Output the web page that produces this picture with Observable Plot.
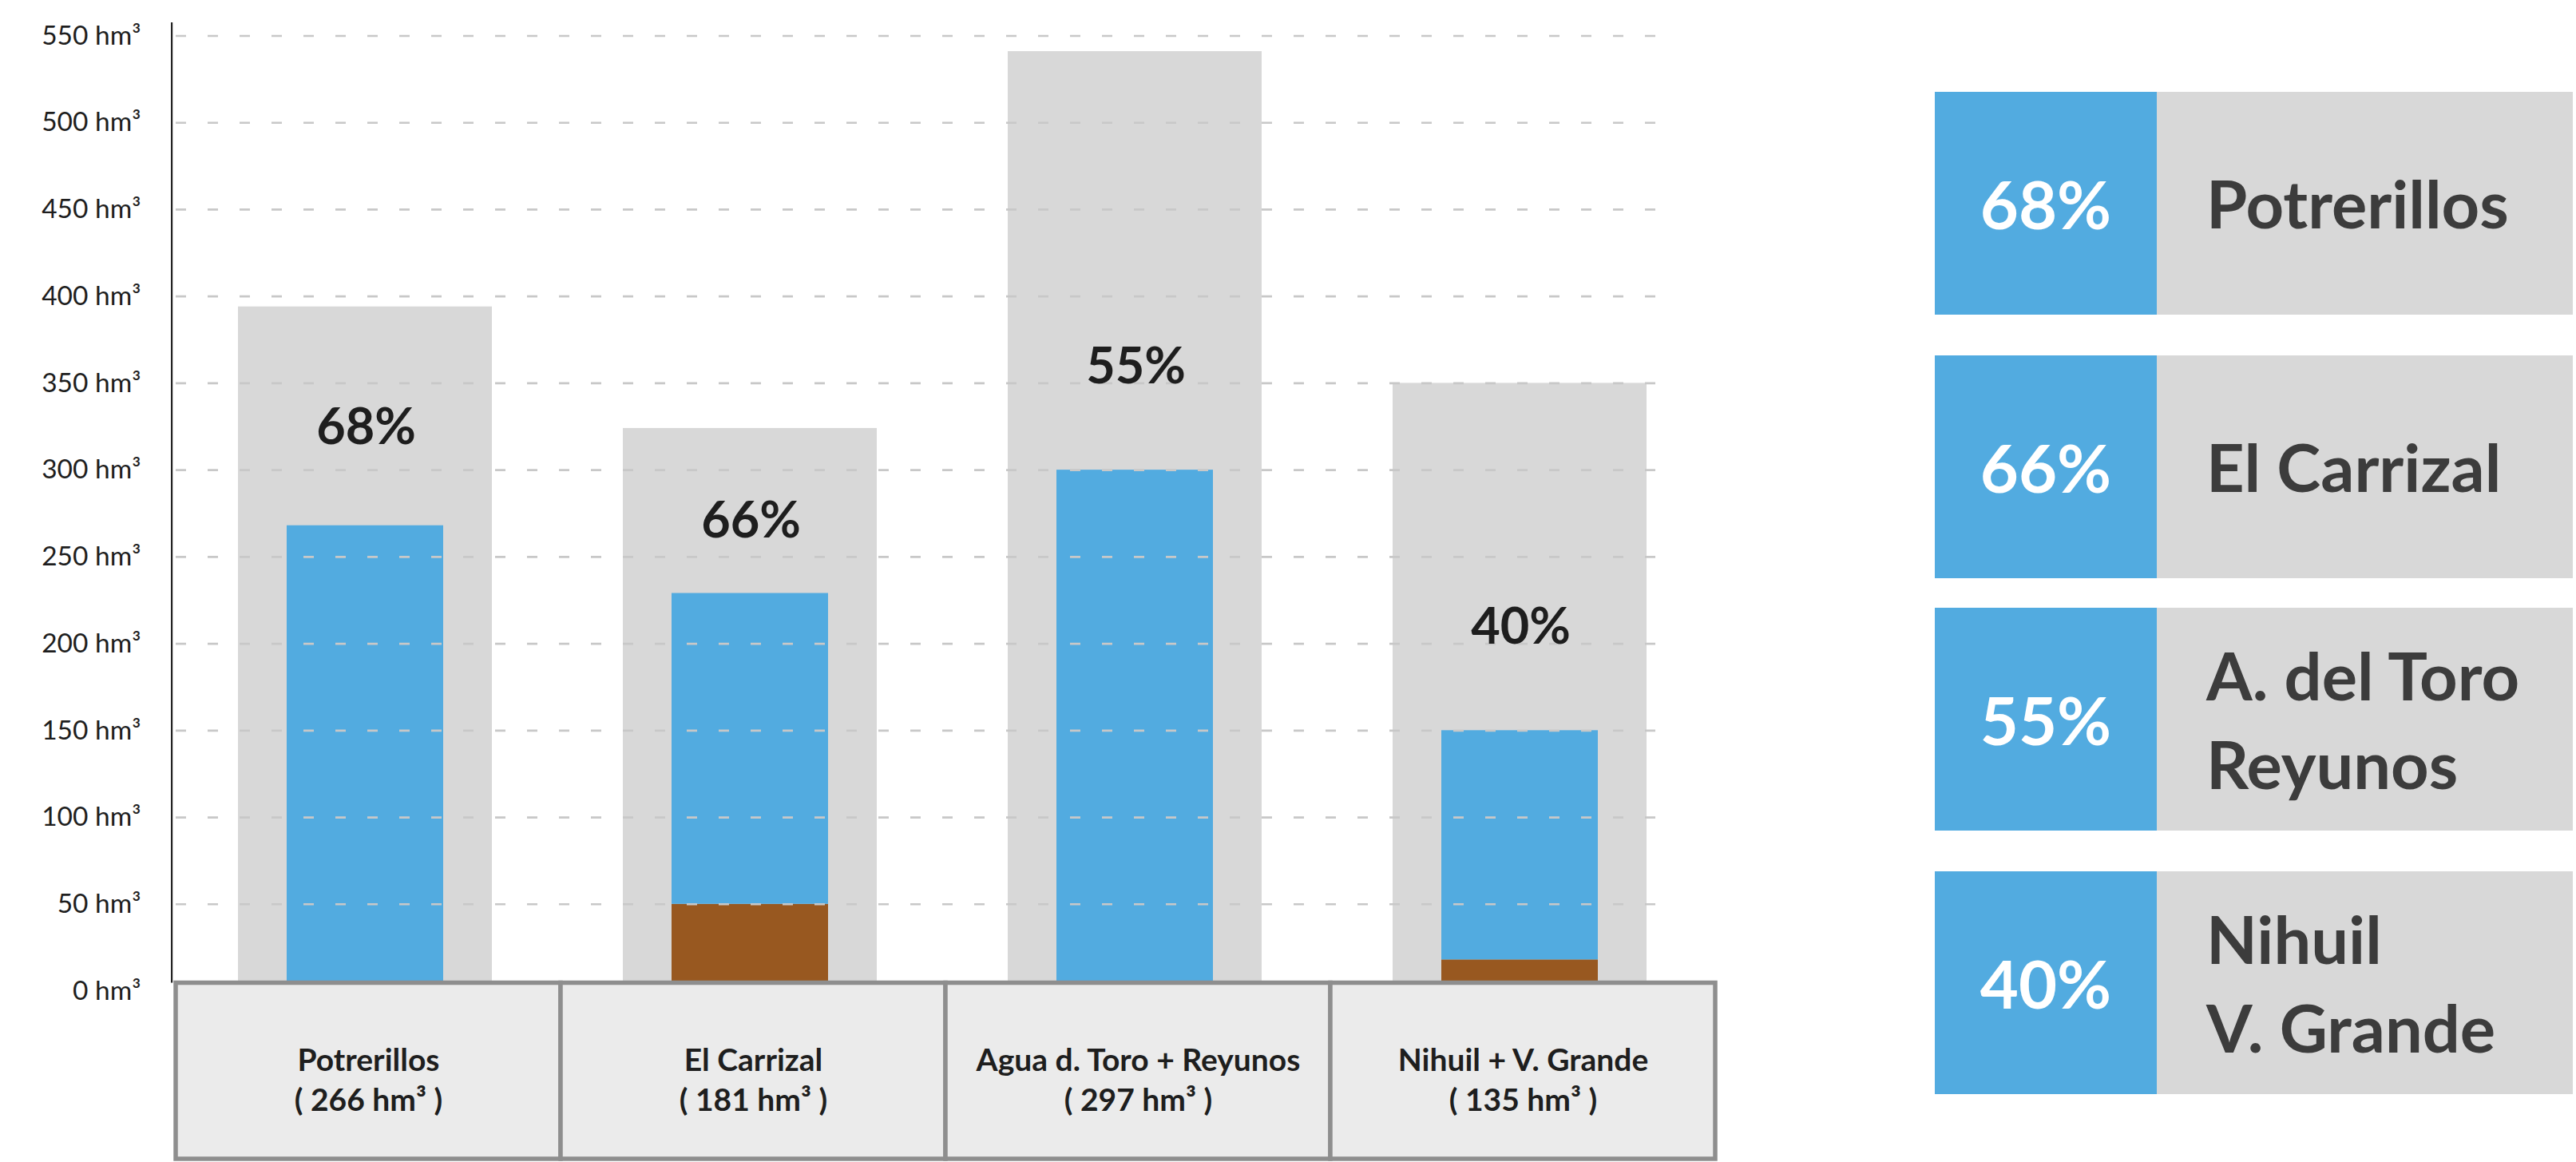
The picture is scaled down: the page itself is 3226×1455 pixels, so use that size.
<!DOCTYPE html>
<html>
<head>
<meta charset="utf-8">
<script src="https://cdn.jsdelivr.net/npm/d3@7"></script>
<script src="https://cdn.jsdelivr.net/npm/@observablehq/plot@0.6"></script>
<style>
  html, body { margin: 0; padding: 0; background: #ffffff; }
  #wrap { position: relative; width: 3226px; height: 1455px; overflow: hidden; font-family: "Lato", "Noto Sans", sans-serif; }
  #chart { position: absolute; left: 0; top: 0; }
  .pbox { position: absolute; left: 2423px; width: 799px; height: 279px; display: flex; }
  .pbox .pct { width: 278px; background: #52abe0; color: #ffffff; font-weight: 700; font-size: 83px;
               display: flex; align-items: center; justify-content: center; }
  .pbox .nm { flex: 1; background: #d8d8d8; color: #3c3c3c; font-weight: 700; font-size: 83px; line-height: 1.33;
              display: flex; align-items: center; padding-left: 62px; white-space: pre; }
</style>
</head>
<body>
<div id="wrap">
  <div id="chart"></div>
  <div id="panel"></div>
</div>
<script>
// ---- data ----
const categories = ["Potrerillos", "El Carrizal", "Agua d. Toro + Reyunos", "Nihuil + V. Grande"];
const storedLabels = ["266", "181", "297", "135"];          // hm³ shown under each dam
const capacity = [394, 324, 541, 350];                      // grey bar tops (hm³)
const sediment = [0, 50, 0, 18];                            // brown bottom part (hm³)
const waterTop = [268, 229, 300, 150];                      // blue bar tops (hm³)
const pctLabels = ["68%", "66%", "55%", "40%"];
const pctLabelY = [315, 261, 350, 200];                     // baseline of % labels (hm³)
const yTicks = [0, 50, 100, 150, 200, 250, 300, 350, 400, 450, 500, 550];

const panelPct = ["68%", "66%", "55%", "40%"];
const panelNames = ["Potrerillos", "El Carrizal", "A. del Toro\nReyunos", "Nihuil\nV. Grande"];

// ---- table built from the arrays ----
const rows = categories.map((name, i) => ({
  name,
  stored: storedLabels[i],
  capacity: capacity[i],
  sediment: sediment[i],
  water: waterTop[i],
  pct: pctLabels[i],
  pctY: pctLabelY[i]
}));

const blue = "#52abe0", grey = "#d8d8d8", brown = "#985820";

const chart = Plot.plot({
  width: 2200,
  height: 1455,
  marginLeft: 219,
  marginRight: 51,
  marginTop: 44.5,
  marginBottom: 1.4,
  x: {type: "band", domain: categories, padding: 0, axis: null},
  y: {domain: [-98, 550], axis: null},
  style: {fontFamily: "Lato, 'Noto Sans', sans-serif", background: "#ffffff", overflow: "visible"},
  marks: [
    Plot.barY(rows, {x: "name", y1: 0, y2: "capacity", fill: grey, insetLeft: 82, insetRight: 82, dx: -4}),
    Plot.barY(rows.filter(d => d.sediment > 0), {x: "name", y1: 0, y2: "sediment", fill: brown, insetLeft: 143, insetRight: 143, dx: -4}),
    Plot.barY(rows, {x: "name", y1: "sediment", y2: "water", fill: blue, insetLeft: 143, insetRight: 143, dx: -4}),
    Plot.ruleY(yTicks, {y: d => d, stroke: "#c8c8c8", strokeWidth: 2.7, strokeDasharray: "13,27", insetLeft: 1, insetRight: 76}),
    Plot.text(rows, {x: "name", y: "pctY", text: "pct", lineAnchor: "bottom", fontSize: 63, fontWeight: 700, fill: "#1e1e1e", dx: -3}),
    Plot.barY(rows, {x: "name", y1: -96.8, y2: 4.6, fill: "#ebebeb", stroke: "#8e8e8e", strokeWidth: 5.5}),
    Plot.text(rows, {x: "name", y: -50, text: d => `${d.name}\n( ${d.stored} hm³ )`, lineAnchor: "middle", lineHeight: 1.3, fontSize: 39, fontWeight: 700, fill: "#1e1e1e"}),
    Plot.axisY(yTicks, {anchor: "left", tickSize: 0, tickPadding: 43, tickFormat: d => `${d} hm³`, fontSize: 33.5, fill: "#1e1e1e"}),
    Plot.ruleX([categories[0]], {x: d => d, y1: 4.6, y2: 557.6, dx: -246.4, stroke: "#222222", strokeWidth: 2.2})
  ]
});
document.getElementById("chart").appendChild(chart);

// ---- right-hand key, built from the panel arrays ----
const panelTops = [115, 445, 761, 1091];
const panel = document.getElementById("panel");
panelPct.forEach((p, i) => {
  const box = document.createElement("div");
  box.className = "pbox";
  box.style.top = panelTops[i] + "px";
  const a = document.createElement("div");
  a.className = "pct";
  a.textContent = p;
  const b = document.createElement("div");
  b.className = "nm";
  b.textContent = panelNames[i];
  box.appendChild(a);
  box.appendChild(b);
  panel.appendChild(box);
});
</script>
</body>
</html>
